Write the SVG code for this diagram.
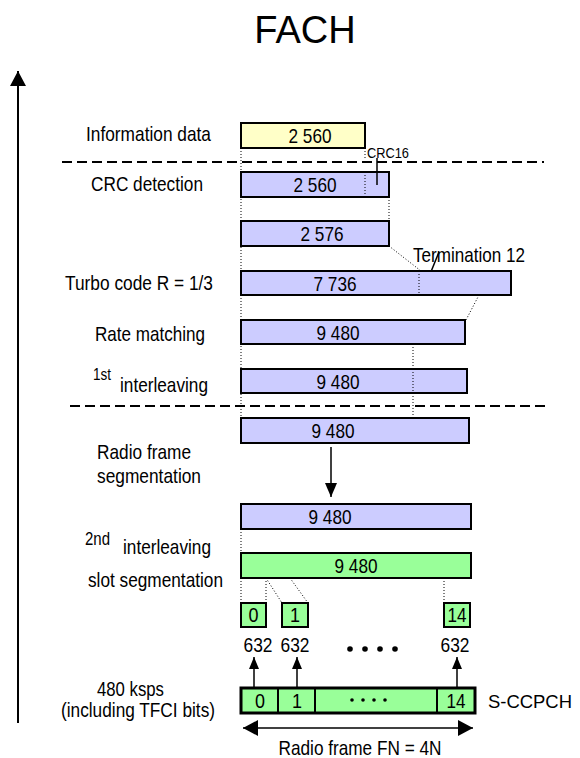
<svg xmlns="http://www.w3.org/2000/svg" width="580" height="758" viewBox="0 0 580 758">
<style>
  .t{font-family:"Liberation Sans Narrow","Arial Narrow","Liberation Sans",Arial,sans-serif;font-size:21px;fill:#000}
  .sm{font-size:16px}
  .md{font-size:18px}
  .xs{font-size:15px}
  .mid{text-anchor:middle}
  .title{font-family:"Liberation Sans",Arial,sans-serif;font-size:38px;text-anchor:middle;fill:#000}
  .box{stroke:#000;stroke-width:2}
  .lav{fill:#CCCCFF}
  .grn{fill:#99FF99}
  .yel{fill:#FFFFC8}
  .dot{stroke:#000;stroke-width:1;stroke-dasharray:1 2;fill:none}
  .dash{stroke:#000;stroke-width:2;stroke-dasharray:10 5}
  .ln{stroke:#000;stroke-width:1.5;fill:none}
</style>
<defs>
  <marker id="big" markerUnits="userSpaceOnUse" markerWidth="16" markerHeight="16" refX="15" refY="8" orient="auto-start-reverse">
    <path d="M0,0 L15,8 L0,16 Z" fill="#000"/>
  </marker>
  <marker id="mid" markerUnits="userSpaceOnUse" markerWidth="14" markerHeight="12" refX="14" refY="6" orient="auto">
    <path d="M0,0 L14,6 L0,12 Z" fill="#000"/>
  </marker>
  <marker id="small" markerUnits="userSpaceOnUse" markerWidth="12" markerHeight="10" refX="12" refY="5" orient="auto">
    <path d="M0,0 L12,5 L0,10 Z" fill="#000"/>
  </marker>
</defs>

<text class="title" x="305" y="43">FACH</text>

<g id="connectors">
  <line x1="18" y1="723" x2="18" y2="71" stroke="#000" stroke-width="2" marker-end="url(#big)"/>
  <line class="dash" x1="62" y1="162" x2="544" y2="162"/>
  <line class="dash" x1="70" y1="406" x2="548" y2="406"/>
  <line class="dot" x1="241" y1="148" x2="241" y2="418"/>
  <line class="dot" x1="389" y1="197" x2="389" y2="221"/>
  <line class="dot" x1="389" y1="246" x2="421" y2="271"/>
  <line class="dot" x1="479" y1="295" x2="466" y2="320"/>
  <line class="dot" x1="241" y1="529" x2="241" y2="553"/>
  <line class="dot" x1="241" y1="578" x2="241" y2="603"/>
  <line class="dot" x1="266" y1="578" x2="266" y2="603"/>
  <line class="dot" x1="266" y1="578" x2="282" y2="603"/>
  <line class="dot" x1="290" y1="578" x2="308" y2="603"/>
  <line class="dot" x1="444" y1="578" x2="444" y2="603"/>
  <line class="ln" x1="331" y1="447" x2="331" y2="497" marker-end="url(#mid)"/>
  <line class="ln" x1="254" y1="687" x2="254" y2="657" marker-end="url(#small)"/>
  <line class="ln" x1="297" y1="687" x2="297" y2="657" marker-end="url(#small)"/>
  <line class="ln" x1="457" y1="687" x2="457" y2="657" marker-end="url(#small)"/>
  <line class="ln" x1="243" y1="728" x2="473" y2="728" marker-start="url(#big)" marker-end="url(#big)"/>
</g>

<g id="information-data">
  <text class="t" x="86" y="141" textLength="125" lengthAdjust="spacingAndGlyphs">Information data</text>
  <rect class="box yel" x="241" y="123" width="124" height="25"/>
  <text class="t mid" x="310" y="143" textLength="43" lengthAdjust="spacingAndGlyphs">2 560</text>
</g>
<g id="crc16">
  <line class="dot" x1="365" y1="148" x2="365" y2="160"/>
  <text class="t xs" x="367" y="158" textLength="42" lengthAdjust="spacingAndGlyphs">CRC16</text>
</g>
<g id="crc-detection">
  <text class="t" x="91" y="191" textLength="112" lengthAdjust="spacingAndGlyphs">CRC detection</text>
  <rect class="box lav" x="241" y="172" width="148" height="25"/>
  <text class="t mid" x="315" y="192" textLength="43" lengthAdjust="spacingAndGlyphs">2 560</text>
  <line class="dot" x1="365" y1="172" x2="365" y2="197"/>
  <line class="ln" x1="377" y1="158" x2="377" y2="185"/>
</g>
<g id="crc-added">
  <rect class="box lav" x="241" y="221" width="148" height="25"/>
  <text class="t mid" x="322" y="241" textLength="43" lengthAdjust="spacingAndGlyphs">2 576</text>
</g>
<g id="termination">
  <text class="t" x="413" y="262" textLength="112" lengthAdjust="spacingAndGlyphs">Termination 12</text>
  <line class="ln" x1="426" y1="284" x2="439" y2="252"/>
</g>
<g id="turbo-code">
  <text class="t" x="65" y="290" textLength="148" lengthAdjust="spacingAndGlyphs">Turbo code R = 1/3</text>
  <rect class="box lav" x="241" y="271" width="270" height="24"/>
  <text class="t mid" x="335" y="291" textLength="43" lengthAdjust="spacingAndGlyphs">7 736</text>
  <line class="dot" x1="419" y1="271" x2="419" y2="295"/>
</g>
<g id="rate-matching">
  <text class="t" x="95" y="341" textLength="110" lengthAdjust="spacingAndGlyphs">Rate matching</text>
  <rect class="box lav" x="241" y="320" width="224" height="24"/>
  <text class="t mid" x="338" y="340" textLength="43" lengthAdjust="spacingAndGlyphs">9 480</text>
</g>
<g id="first-interleaving">
  <text class="t sm" x="93" y="380" textLength="18" lengthAdjust="spacingAndGlyphs">1st</text>
  <text class="t" x="120" y="392" textLength="88" lengthAdjust="spacingAndGlyphs">interleaving</text>
  <line class="dot" x1="413" y1="344" x2="413" y2="369"/>
  <rect class="box lav" x="241" y="369" width="226" height="24"/>
  <line class="dot" x1="413" y1="369" x2="413" y2="418"/>
  <text class="t mid" x="338" y="389" textLength="43" lengthAdjust="spacingAndGlyphs">9 480</text>
</g>
<g id="radio-frame-segmentation">
  <rect class="box lav" x="241" y="418" width="228" height="25"/>
  <text class="t mid" x="333" y="438" textLength="43" lengthAdjust="spacingAndGlyphs">9 480</text>
  <text class="t" x="97" y="459" textLength="94" lengthAdjust="spacingAndGlyphs">Radio frame</text>
  <text class="t" x="97" y="483" textLength="104" lengthAdjust="spacingAndGlyphs">segmentation</text>
</g>
<g id="second-interleaving">
  <rect class="box lav" x="241" y="504" width="230" height="25"/>
  <text class="t mid" x="330" y="524" textLength="43" lengthAdjust="spacingAndGlyphs">9 480</text>
  <text class="t md" x="85" y="545" textLength="25" lengthAdjust="spacingAndGlyphs">2nd</text>
  <text class="t" x="123" y="554" textLength="88" lengthAdjust="spacingAndGlyphs">interleaving</text>
</g>
<g id="slot-segmentation">
  <rect class="box grn" x="241" y="553" width="230" height="25"/>
  <text class="t mid" x="356" y="573" textLength="43" lengthAdjust="spacingAndGlyphs">9 480</text>
  <text class="t" x="88" y="587" textLength="135" lengthAdjust="spacingAndGlyphs">slot segmentation</text>
</g>
<g id="slot-0">
  <rect class="box grn" x="241" y="603" width="25" height="24"/>
  <text class="t mid" x="253.5" y="622" textLength="10" lengthAdjust="spacingAndGlyphs">0</text>
  <text class="t mid" x="258" y="652" textLength="29" lengthAdjust="spacingAndGlyphs">632</text>
</g>
<g id="slot-1">
  <rect class="box grn" x="282" y="603" width="26" height="24"/>
  <text class="t mid" x="295" y="622" textLength="10" lengthAdjust="spacingAndGlyphs">1</text>
  <text class="t mid" x="295" y="652" textLength="29" lengthAdjust="spacingAndGlyphs">632</text>
</g>
<g id="slot-dots">
  <circle cx="350" cy="649" r="2.8"/>
  <circle cx="365" cy="649" r="2.8"/>
  <circle cx="380" cy="649" r="2.8"/>
  <circle cx="395" cy="649" r="2.8"/>
</g>
<g id="slot-14">
  <rect class="box grn" x="444" y="603" width="26" height="24"/>
  <text class="t mid" x="457" y="622" textLength="19" lengthAdjust="spacingAndGlyphs">14</text>
  <text class="t mid" x="455" y="652" textLength="29" lengthAdjust="spacingAndGlyphs">632</text>
</g>
<g id="s-ccpch">
  <rect x="241" y="688" width="234" height="25" fill="#99FF99" stroke="#000" stroke-width="3"/>
  <line x1="278" y1="688" x2="278" y2="713" stroke="#000" stroke-width="2"/>
  <line x1="315" y1="688" x2="315" y2="713" stroke="#000" stroke-width="2"/>
  <line x1="437" y1="688" x2="437" y2="713" stroke="#000" stroke-width="2"/>
  <text class="t mid" x="260" y="708" textLength="10" lengthAdjust="spacingAndGlyphs">0</text>
  <text class="t mid" x="297" y="708" textLength="10" lengthAdjust="spacingAndGlyphs">1</text>
  <circle cx="352" cy="700" r="1.8"/>
  <circle cx="363" cy="700" r="1.8"/>
  <circle cx="374" cy="700" r="1.8"/>
  <circle cx="385" cy="700" r="1.8"/>
  <text class="t mid" x="456" y="708" textLength="19" lengthAdjust="spacingAndGlyphs">14</text>
  <text class="t" x="488" y="708" style="font-size:19px" textLength="84" lengthAdjust="spacingAndGlyphs">S-CCPCH</text>
  <text class="t" x="97" y="696" style="font-size:20px" textLength="67" lengthAdjust="spacingAndGlyphs">480 ksps</text>
  <text class="t mid" x="138" y="717" style="font-size:20px" textLength="154" lengthAdjust="spacingAndGlyphs">(including TFCI bits)</text>
</g>
<g id="radio-frame">
  <text class="t mid" x="360" y="755" textLength="163" lengthAdjust="spacingAndGlyphs">Radio frame FN = 4N</text>
</g>
</svg>
